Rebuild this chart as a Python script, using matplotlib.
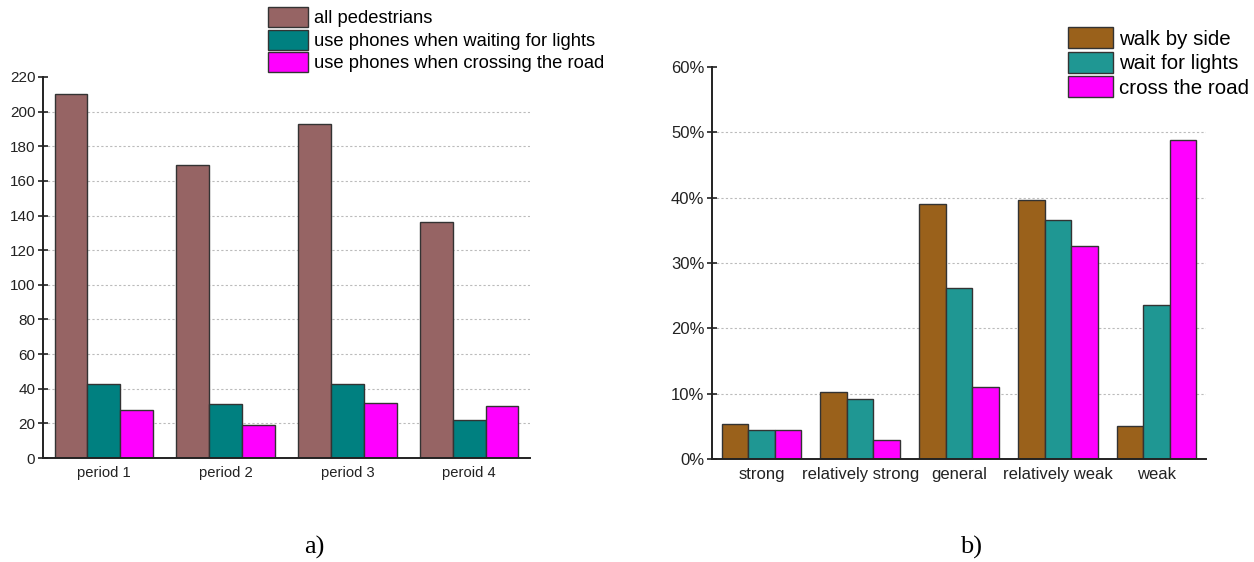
import numpy as np
import matplotlib.pyplot as plt
from matplotlib.ticker import FuncFormatter

plt.rcParams['font.family'] = ['Liberation Sans', 'DejaVu Sans']

# a) pedestrians per period
periods = ['period 1', 'period 2', 'period 3', 'peroid 4']
all_ped = [210, 169, 193, 136]
wait_phone = [43, 31, 43, 22]
cross_phone = [28, 19, 32, 30]
labels_a = ['all pedestrians', 'use phones when waiting for lights',
            'use phones when crossing the road']

# b) share by level (%)
levels = ['strong', 'relatively strong', 'general', 'relatively weak', 'weak']
walk_side = [5.4, 10.2, 39.1, 39.6, 5.1]
wait_lights = [4.4, 9.2, 26.1, 36.6, 23.5]
cross_road = [4.4, 2.9, 11.0, 32.6, 48.8]
labels_b = ['walk by side', 'wait for lights', 'cross the road']

fig = plt.figure(figsize=(12.54, 5.62), dpi=100)
edge = '#333333'


def style_axes(ax, ylabel_size):
    for s in ['top', 'right']:
        ax.spines[s].set_visible(False)
    for s in ['left', 'bottom']:
        ax.spines[s].set_linewidth(1.4)
        ax.spines[s].set_color('#222222')
    ax.tick_params(axis='y', direction='inout', length=7, width=1.2,
                   labelsize=ylabel_size, pad=2, colors='#222222')
    ax.tick_params(axis='x', length=0, pad=6, colors='#222222')
    ax.yaxis.grid(True, linestyle=(0, (2, 2)), color='#bbbbbb', linewidth=0.8)
    ax.set_axisbelow(True)
    ax.yaxis.get_gridlines()[0].set_visible(False)
    ax.yaxis.get_gridlines()[-1].set_visible(False)


# ---- left chart ----
ax1 = fig.add_axes([43 / 1254, 1 - 458 / 562, 487 / 1254, 381 / 562])
cols_a = ['#966464', '#008080', '#ff00ff']
x = np.arange(len(periods))
w = 0.27
bars_a = []
for i, (vals, c) in enumerate(zip([all_ped, wait_phone, cross_phone], cols_a)):
    b = ax1.bar(x + (i - 1) * w, vals, w, color=c, edgecolor=edge, linewidth=1.0)
    bars_a.append(b)
ax1.set_xlim(-0.5, 3.5)
ax1.set_ylim(0, 220)
ax1.set_yticks(range(0, 221, 20))
ax1.set_xticks(x)
ax1.set_xticklabels(periods, fontsize=10.6)
style_axes(ax1, 11)

fig.legend(bars_a, labels_a, loc='upper left', bbox_to_anchor=(268 / 1254, 1 - 7 / 562),
           frameon=False, fontsize=13.2, handlelength=2.19, handleheight=1.30,
           labelspacing=0.13, handletextpad=0.33, borderpad=0, borderaxespad=0)

# ---- right chart ----
ax2 = fig.add_axes([712 / 1254, 1 - 459 / 562, 494 / 1254, 392 / 562])
cols_b = ['#9a611b', '#1f9793', '#ff00ff']
x2 = np.arange(len(levels))
w2 = 0.268
bars_b = []
for i, (vals, c) in enumerate(zip([walk_side, wait_lights, cross_road], cols_b)):
    b = ax2.bar(x2 + (i - 1) * w2, vals, w2, color=c, edgecolor=edge, linewidth=1.0)
    bars_b.append(b)
ax2.set_xlim(-0.5, 4.5)
ax2.set_ylim(0, 60)
ax2.set_yticks(range(0, 61, 10))
ax2.yaxis.set_major_formatter(FuncFormatter(lambda v, p: f'{v:.0f}%'))
ax2.set_xticks(x2)
ax2.set_xticklabels(levels, fontsize=12)
style_axes(ax2, 12)

fig.legend(bars_b, labels_b, loc='upper left', bbox_to_anchor=(1068 / 1254, 1 - 27 / 562),
           frameon=False, fontsize=14.8, handlelength=2.2, handleheight=1.22,
           labelspacing=0.145, handletextpad=0.26, borderpad=0, borderaxespad=0)

# panel labels
fig.text(314 / 1254, 1 - 547 / 562, 'a)', family='Liberation Serif', fontsize=19,
         ha='center', va='center')
fig.text(971 / 1254, 1 - 547 / 562, 'b)', family='Liberation Serif', fontsize=19,
         ha='center', va='center')

plt.savefig('out.png', dpi=100)
